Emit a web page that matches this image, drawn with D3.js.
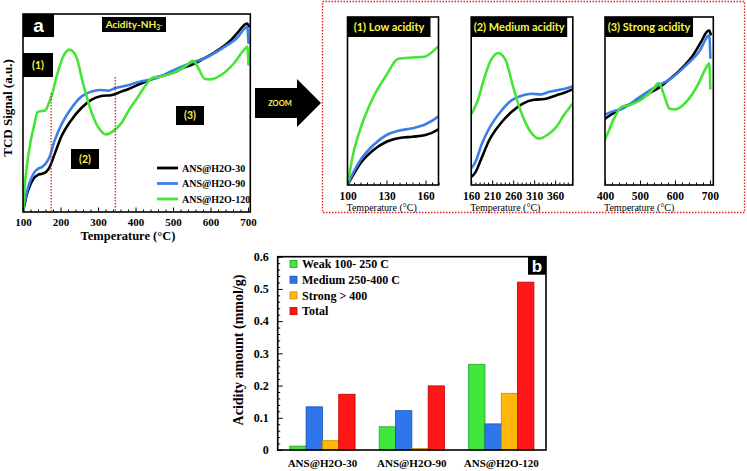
<!DOCTYPE html>
<html><head><meta charset="utf-8">
<script src="https://cdn.jsdelivr.net/npm/d3@7"></script>
<style>body{margin:0;background:#fff}svg{display:block}</style>
</head><body><svg id="c" width="747" height="471"></svg>
<script>
// ---------- DATA ----------
const seriesNames = ["ANS@H2O-30", "ANS@H2O-90", "ANS@H2O-120"];
const tempBlack = [100,105,110,120,130,140,150,160,170,185,202,229,255,282,309,335,362,380,416,440,461,500,529,550,576,614,652,674,692,698,702];
const sigBlack  = [0,4.6,8.7,14,17.3,18.8,19.3,20,22.3,29.6,38,46.5,52.4,56.6,58.6,59,60.8,62,65,66.8,68.3,70.4,73,74.4,76.9,81,86.4,91,94.8,95.2,93.8];
const tempBlue  = [100,105,110,120,130,139,150,160,170,185,202,229,255,282,304,327,344,380,416,452,500,548,586,633,671,695,698,701];
const sigBlue   = [0,5.5,10,16,20,21.7,22.7,24.3,27.5,36.4,44,52.4,58.2,60.8,61.6,61.3,62.5,64,66,67.4,71.5,75.3,77.8,82.9,88,93.3,93.5,85.5];
const tempGreen = [100,104.5,109.6,120,130,139,150,159,169,176,189,207,224,242,260,278,300,322,344,362,380,407,425,448,470,496,519,532,554,567,585,600,633,662,692,698,701];
const sigGreen  = [0,12.7,22,35.3,44,50.5,51,51.3,55,58.5,68,78.4,82,78.4,65,53,43,39.2,41.4,44.8,50.7,58.2,63.5,68,68.5,70,72,73.4,76.4,72.8,67.2,67,69.8,75,82.5,83.5,74.5];
const mainTicks = [100,200,300,400,500,600,700];
const inset1Ticks = [100,130,160];
const inset2Ticks = [160,210,260,310,360];
const inset3Ticks = [400,500,600,700];
const insetTitles = ["(1) Low acidity", "(2) Medium acidity", "(3) Strong acidity"];

const barCategories = ["ANS@H2O-30", "ANS@H2O-90", "ANS@H2O-120"];
const barSeries = ["Weak 100- 250 C", "Medium 250-400 C", "Strong > 400", "Total"];
const weakVals   = [0.012, 0.072, 0.266];
const mediumVals = [0.134, 0.122, 0.081];
const strongVals = [0.029, 0.005, 0.176];
const totalVals  = [0.173, 0.199, 0.521];
const barTicks = [0, 0.1, 0.2, 0.3, 0.4, 0.5, 0.6];
const barTickLabels = ["0", "0.1", "0.2", "0.3", "0.4", "0.5", "0.6"];

// ---------- STYLE ----------
const lineColors = ["#000000", "#3b7fe6", "#44e536"];
const barFill = ["#3fe83a", "#2f76ea", "#ffb70a", "#ff1616"];
const barStroke = ["#20a020", "#1a50b0", "#c88a00", "#c00000"];
const yellow = "#f5f550";
const serif = "'Liberation Serif','DejaVu Serif',serif";
const sans = "Lato,'Open Sans',sans-serif";

const svg = d3.select("#c");
svg.append("rect").attr("width",747).attr("height",471).attr("fill","#fff");

const series = [
  {t: tempBlack, s: sigBlack},
  {t: tempBlue, s: sigBlue},
  {t: tempGreen, s: sigGreen}
];

function linePanel(o) {
  const g = svg.append("g");
  const x = d3.scaleLinear().domain(o.xd).range([o.x0, o.x1]);
  const y = d3.scaleLinear().domain(o.yd).range([o.y1, o.y0]);
  const cid = "clip" + o.id;
  svg.append("defs").append("clipPath").attr("id", cid)
    .append("rect").attr("x", o.x0).attr("y", o.y0).attr("width", o.x1 - o.x0).attr("height", o.y1 - o.y0);
  const line = d3.line().x(d => x(d[0])).y(d => y(d[1])).curve(d3.curveMonotoneX);
  const lg = g.append("g").attr("clip-path", `url(#${cid})`);
  series.forEach((sr, i) => {
    const pts = sr.t.map((t, k) => [t, sr.s[k]]);
    lg.append("path").attr("d", line(pts)).attr("fill","none")
      .attr("stroke", lineColors[i]).attr("stroke-width", o.lw).attr("stroke-linejoin","round").attr("stroke-linecap","round");
  });
  const minor = d3.range(o.xd[0], o.xd[1] + 0.001, o.minor).filter(v => !o.ticks.includes(v));
  g.append("g").attr("transform", `translate(0,${o.y1})`)
    .call(d3.axisBottom(x).tickValues(minor).tickSize(-2.5).tickFormat(""))
    .call(a => a.select(".domain").remove())
    .selectAll("line").attr("stroke","#000");
  const ax = g.append("g").attr("transform", `translate(0,${o.y1})`)
    .call(d3.axisBottom(x).tickValues(o.ticks).tickSize(-4.5).tickPadding(o.pad))
    .call(a => a.select(".domain").remove());
  ax.selectAll("line").attr("stroke","#000");
  ax.selectAll("text").attr("font-family", serif).attr("font-size", o.fs).attr("font-weight","bold").attr("fill","#000");
  g.append("rect").attr("x", o.x0).attr("y", o.y0).attr("width", o.x1 - o.x0).attr("height", o.y1 - o.y0)
    .attr("fill","none").attr("stroke","#000").attr("stroke-width", 1.6);
  return {g, x, y};
}

function label(x, y, w, h, txt, color, fs, family) {
  svg.append("rect").attr("x", x).attr("y", y).attr("width", w).attr("height", h).attr("fill", "#000");
  svg.append("text").attr("x", x + w / 2).attr("y", y + h / 2).attr("dy", "0.35em")
    .attr("text-anchor", "middle")
    .attr("font-family", family || sans).attr("font-weight", "bold").attr("font-size", fs).attr("fill", color).text(txt);
}

// ---------- PANEL A ----------
const A = linePanel({id: "a", xd: [100, 706], yd: [0, 100], x0: 23, x1: 250.3, y0: 14, y1: 212,
  ticks: mainTicks, minor: 20, lw: 2.6, pad: 6, fs: 11});
[[175, 93], [346, 77]].forEach(([t, top]) => {
  svg.append("line").attr("x1", A.x(t)).attr("x2", A.x(t)).attr("y1", top).attr("y2", 211)
    .attr("stroke", "#e02424").attr("stroke-width", 1.3).attr("stroke-dasharray", "1.5,1.5");
});
label(23, 14, 31, 23, "a", "#fff", 19, "'Liberation Sans',Arial,sans-serif");
svg.append("rect").attr("x", 102).attr("y", 17).attr("width", 64).attr("height", 15).attr("fill", "#000");
const ac = svg.append("text").attr("x", 134).attr("y", 28).attr("text-anchor", "middle")
  .attr("font-family", sans).attr("font-weight", "bold").attr("font-size", 10).attr("fill", yellow);
ac.append("tspan").text("Acidity-NH");
ac.append("tspan").attr("font-size", 6.5).attr("dy", 2).text("3");
ac.append("tspan").attr("font-size", 6.5).attr("dy", -2).text("-");
label(23, 53, 30, 24, "(1)", yellow, 10.5);
label(71, 149, 28, 20, "(2)", yellow, 10.5);
label(176, 106, 28, 19, "(3)", yellow, 10.5);

seriesNames.forEach((n, i) => {
  const yy = 168 + i * 15.5;
  svg.append("line").attr("x1", 157).attr("x2", 178).attr("y1", yy).attr("y2", yy)
    .attr("stroke", lineColors[i]).attr("stroke-width", 2.8);
  svg.append("text").attr("x", 182).attr("y", yy).attr("dy", "0.35em")
    .attr("font-family", serif).attr("font-weight", "bold").attr("font-size", 10).text(n);
});
svg.append("text").attr("x", 128).attr("y", 239.5).attr("text-anchor", "middle")
  .attr("font-family", serif).attr("font-size", 12.5).attr("font-weight", "bold").text("Temperature (°C)");
svg.append("text").attr("transform", "translate(12,108) rotate(-90)").attr("text-anchor", "middle")
  .attr("font-family", serif).attr("font-size", 13).attr("font-weight", "bold").text("TCD Signal (a.u.)");

svg.append("path").attr("d", "M255,88 L297,88 L297,79 L321,103 L297,127 L297,118 L255,118 Z").attr("fill", "#000");
svg.append("text").attr("x", 280).attr("y", 103).attr("dy", "0.35em").attr("text-anchor", "middle")
  .attr("font-family", sans).attr("font-weight", "bold").attr("font-size", 7.5).attr("fill", yellow).text("ZOOM");

svg.append("rect").attr("x", 322.5).attr("y", 1.5).attr("width", 422).attr("height", 211)
  .attr("fill", "none").attr("stroke", "#e02424").attr("stroke-width", 1.3).attr("stroke-dasharray", "1.5,1.5");

const insets = [
  {id: "i1", xd: [100, 170], yd: [0, 67.2], x0: 347.5, x1: 438.5, ticks: inset1Ticks, minor: 5, box: [347.5, 83]},
  {id: "i2", xd: [160, 402], yd: [16, 100], x0: 471.2, x1: 572.8, ticks: inset2Ticks, minor: 10, box: [471.2, 96]},
  {id: "i3", xd: [400, 709.5], yd: [40, 100], x0: 605, x1: 713.3, ticks: inset3Ticks, minor: 20, box: [605, 88]}
];
insets.forEach((o, i) => {
  linePanel(Object.assign({y0: 17, y1: 185, lw: 2.6, pad: 7, fs: 11.5}, o));
  label(o.box[0], 17, o.box[1], 20, insetTitles[i], yellow, 11);
  svg.append("text").attr("x", o.x0 - 1).attr("y", 210.5)
    .attr("font-family", serif).attr("font-size", 10).text("Temperature (°C)");
});

// ---------- PANEL B ----------
const bx0 = 277.7, bx1 = 546, by0 = 256.7, by1 = 450;
const xb = d3.scaleBand().domain(barCategories).range([bx0, bx1]).paddingInner(0.27).paddingOuter(0.135);
const xi = d3.scaleBand().domain(barSeries).range([0, xb.bandwidth()]);
const yb = d3.scaleLinear().domain([0, 0.6]).range([by1, by0]);
const barVals = [weakVals, mediumVals, strongVals, totalVals];
const bg = svg.append("g");
barCategories.forEach((c, ci) => {
  barSeries.forEach((s, si) => {
    const v = barVals[si][ci];
    bg.append("rect").attr("x", xb(c) + xi(s)).attr("y", yb(v)).attr("width", xi.bandwidth())
      .attr("height", yb(0) - yb(v)).attr("fill", barFill[si]).attr("stroke", barStroke[si]).attr("stroke-width", 0.8);
  });
});
const minorB = d3.range(0, 0.6001, 0.02).filter(v => Math.abs(Math.round(v * 10) - v * 10) > 1e-6);
bg.append("g").attr("transform", `translate(${bx0},0)`)
  .call(d3.axisLeft(yb).tickValues(minorB).tickSize(-2.5).tickFormat(""))
  .call(a => a.select(".domain").remove());
const ya = bg.append("g").attr("transform", `translate(${bx0},0)`)
  .call(d3.axisLeft(yb).tickValues(barTicks).tickSize(-5).tickPadding(9).tickFormat((d, i) => barTickLabels[i]))
  .call(a => a.select(".domain").remove());
ya.selectAll("text").attr("font-family", serif).attr("font-weight", "bold").attr("font-size", 12);
const xa = bg.append("g").attr("transform", `translate(0,${by1})`)
  .call(d3.axisBottom(xb).tickSize(0).tickPadding(9))
  .call(a => a.select(".domain").remove());
xa.selectAll("text").attr("font-family", serif).attr("font-weight", "bold").attr("font-size", 11);
bg.append("rect").attr("x", bx0).attr("y", by0).attr("width", bx1 - bx0).attr("height", by1 - by0)
  .attr("fill", "none").attr("stroke", "#000").attr("stroke-width", 1.6);
label(528, by0, 18, 18, "b", "#fff", 17, "'Liberation Sans',Arial,sans-serif");
barSeries.forEach((s, i) => {
  const yy = 264 + i * 15.7;
  bg.append("rect").attr("x", 290).attr("y", yy - 3.5).attr("width", 7).attr("height", 7)
    .attr("fill", barFill[i]).attr("stroke", barStroke[i]).attr("stroke-width", 0.8);
  bg.append("text").attr("x", 302).attr("y", yy).attr("dy", "0.35em")
    .attr("font-family", serif).attr("font-weight", "bold").attr("font-size", 12).text(s);
});
svg.append("text").attr("transform", "translate(243,350) rotate(-90)").attr("text-anchor", "middle")
  .attr("font-family", serif).attr("font-weight", "bold").attr("font-size", 14).text("Acidity amount (mmol/g)");
</script></body></html>
